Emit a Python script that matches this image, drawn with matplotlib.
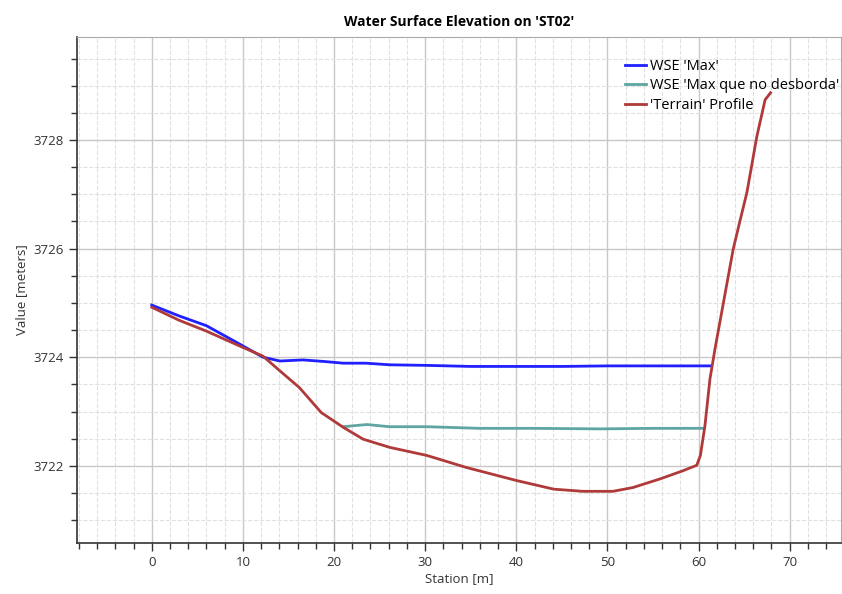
import matplotlib.pyplot as plt
from matplotlib.ticker import MultipleLocator

# Data
terrain_x = [0.0, 3.0, 6.0, 10.0, 12.2, 14.05, 16.2, 18.6, 21.0, 23.2, 26.1, 30.2, 34.5,
             40.0, 44.1, 47.3, 50.6, 52.8, 55.8, 58.3, 59.8, 60.2, 60.7, 61.25, 61.8,
             63.8, 64.5, 65.3, 66.4, 67.3, 67.9]
terrain_y = [3724.92, 3724.68, 3724.48, 3724.18, 3724.02, 3723.75, 3723.44, 3722.98, 3722.71,
             3722.49, 3722.34, 3722.19, 3721.97, 3721.73, 3721.57, 3721.53, 3721.53, 3721.60,
             3721.76, 3721.91, 3722.01, 3722.19, 3722.74, 3723.6, 3724.15, 3725.99, 3726.48,
             3727.03, 3728.07, 3728.74, 3728.87]

wse_max_x = [0.0, 3.0, 6.0, 9.66, 12.2, 14.05, 16.6, 19.0, 21.0, 23.5, 26.1, 30.0, 35.0,
             40.0, 45.0, 50.0, 55.0, 60.0, 61.4]
wse_max_y = [3724.96, 3724.76, 3724.58, 3724.24, 3724.00, 3723.93, 3723.95, 3723.92, 3723.89,
             3723.89, 3723.86, 3723.85, 3723.83, 3723.83, 3723.83, 3723.84, 3723.84, 3723.84,
             3723.84]

wse_nd_x = [21.0, 23.6, 26.1, 30.2, 36.0, 42.0, 49.2, 55.0, 60.5]
wse_nd_y = [3722.72, 3722.76, 3722.72, 3722.72, 3722.69, 3722.69, 3722.68, 3722.69, 3722.69]

plt.rcParams['font.family'] = ['Open Sans', 'DejaVu Sans']

fig = plt.figure(figsize=(8.42, 5.94), dpi=100)
ax = fig.add_axes([0.0915, 0.086, 0.907, 0.852])

ax.plot(wse_max_x, wse_max_y, color='#1f1fff', lw=2, label="WSE 'Max'")
ax.plot(wse_nd_x, wse_nd_y, color='#5fa5a3', lw=2, label="WSE 'Max que no desborda'")
ax.plot(terrain_x, terrain_y, color='#b03a3a', lw=2, label="'Terrain' Profile")

ax.set_xlim(-8.2, 75.6)
ax.set_ylim(3720.58, 3729.9)
ax.xaxis.set_major_locator(MultipleLocator(10))
ax.xaxis.set_minor_locator(MultipleLocator(2))
ax.yaxis.set_major_locator(MultipleLocator(2))
ax.yaxis.set_minor_locator(MultipleLocator(0.5))
ax.grid(which='major', color='#c8c8c8', lw=1)
ax.grid(which='minor', color='#e0e0e0', lw=0.8, ls='--')
ax.set_axisbelow(True)

ax.tick_params(which='major', direction='out', length=6, width=1, labelsize=9.5, colors='#333333')
ax.tick_params(which='minor', direction='out', length=4, width=1, colors='#333333')
ax.ticklabel_format(useOffset=False, style='plain', axis='y')

for s in ['left', 'bottom']:
    ax.spines[s].set_color('#333333')
    ax.spines[s].set_linewidth(1.2)
for s in ['top', 'right']:
    ax.spines[s].set_color('#aaaaaa')

ax.set_title("Water Surface Elevation on 'ST02'", fontsize=10, fontweight='bold', pad=8)
ax.set_xlabel("Station [m]", fontsize=9.5, color='#333333', labelpad=2)
ax.set_ylabel("Value [meters]", fontsize=9.5, color='#333333', labelpad=4)

leg = ax.legend(loc='upper left', bbox_to_anchor=(0.71, 0.968), frameon=False,
                fontsize=10.5, handlelength=1.4, handletextpad=0.3, labelspacing=0.3,
                borderaxespad=0)

fig.savefig('out.png', dpi=100)
